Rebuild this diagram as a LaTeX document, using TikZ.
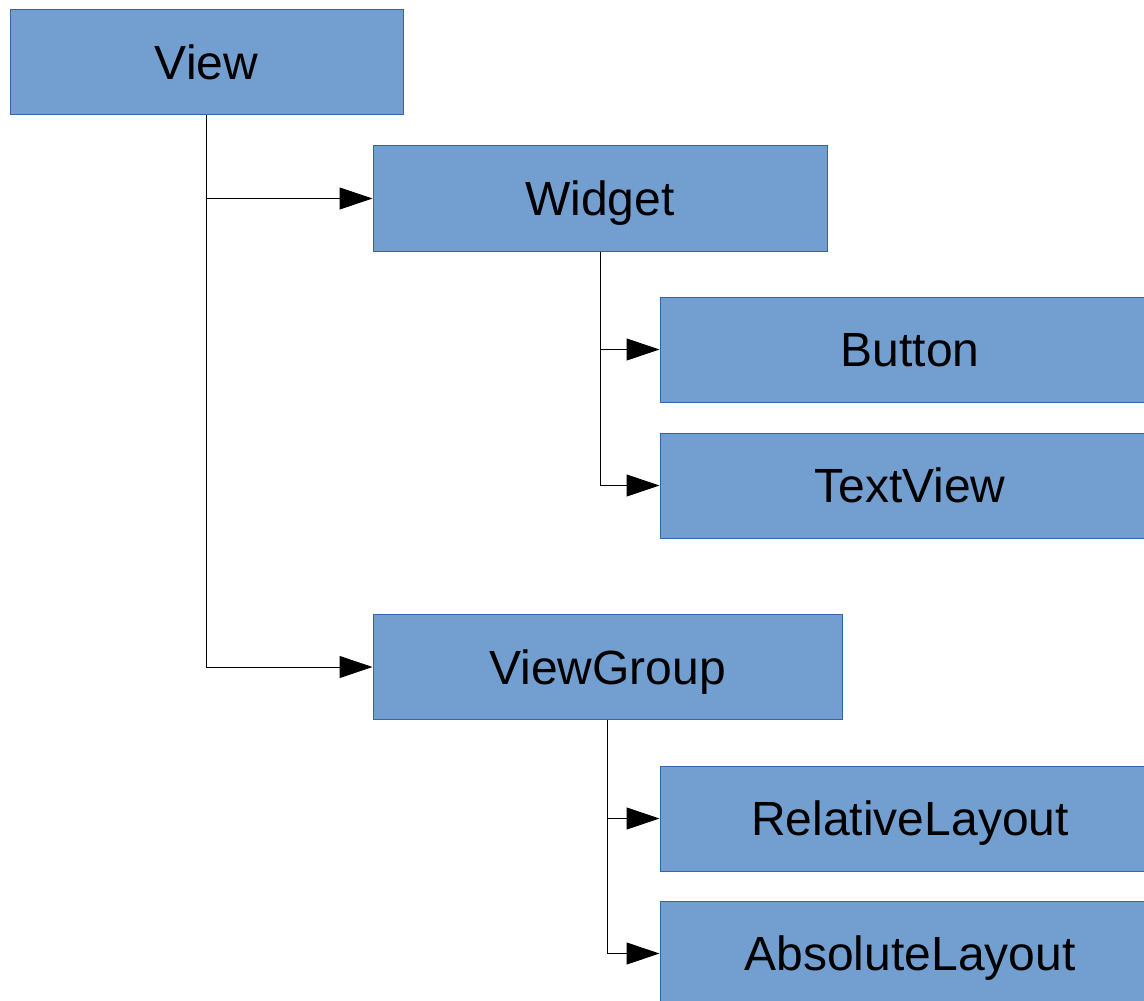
\documentclass[tikz,border=0pt]{standalone}
\usepackage{fontspec}
\setmainfont{Liberation Sans}
\usetikzlibrary{arrows.meta}
\definecolor{boxfill}{HTML}{729FCF}
\definecolor{boxline}{HTML}{3465A4}

\begin{document}
\begin{tikzpicture}[x=0.5pt,y=-0.5pt]
    \tikzstyle{classe}=[draw=boxline,fill=boxfill,line width=0.5pt,inner sep=0pt,
      minimum height=52.5pt,text height=17.2pt,text depth=0pt,
      font=\fontsize{24}{28}\selectfont]
    \tikzstyle{herite}=[-{Triangle[length=16.5pt,width=11pt]},line width=0.5pt]
  \clip (0,0) rectangle (1144,1000);
  \fill[white] (0,0) rectangle (1144,1000);
  \node[classe,minimum width=196.5pt] (view) at (206.5,62.5) {View};
  \node[classe,minimum width=227pt] (widget) at (600,198.5) {Widget};
  \node[classe,minimum width=250pt] (button) at (910,349.5) {Button};
  \node[classe,minimum width=250pt] (textview) at (910,485.5) {TextView};
  \node[classe,minimum width=234.5pt] (viewgroup) at (607.5,667) {ViewGroup};
  \node[classe,minimum width=250pt] (relative) at (910,818.5) {RelativeLayout};
  \node[classe,minimum width=250pt] (absolute) at (910,953.5) {AbsoluteLayout};
  \draw[herite] (view.south) |- (widget.west);
  \draw[herite] (view.south) |- (viewgroup.west);
  \draw[herite] (widget.south) |- (button.west);
  \draw[herite] (widget.south) |- (textview.west);
  \draw[herite] (viewgroup.south) |- (relative.west);
  \draw[herite] (viewgroup.south) |- (absolute.west);
\end{tikzpicture}
\end{document}
